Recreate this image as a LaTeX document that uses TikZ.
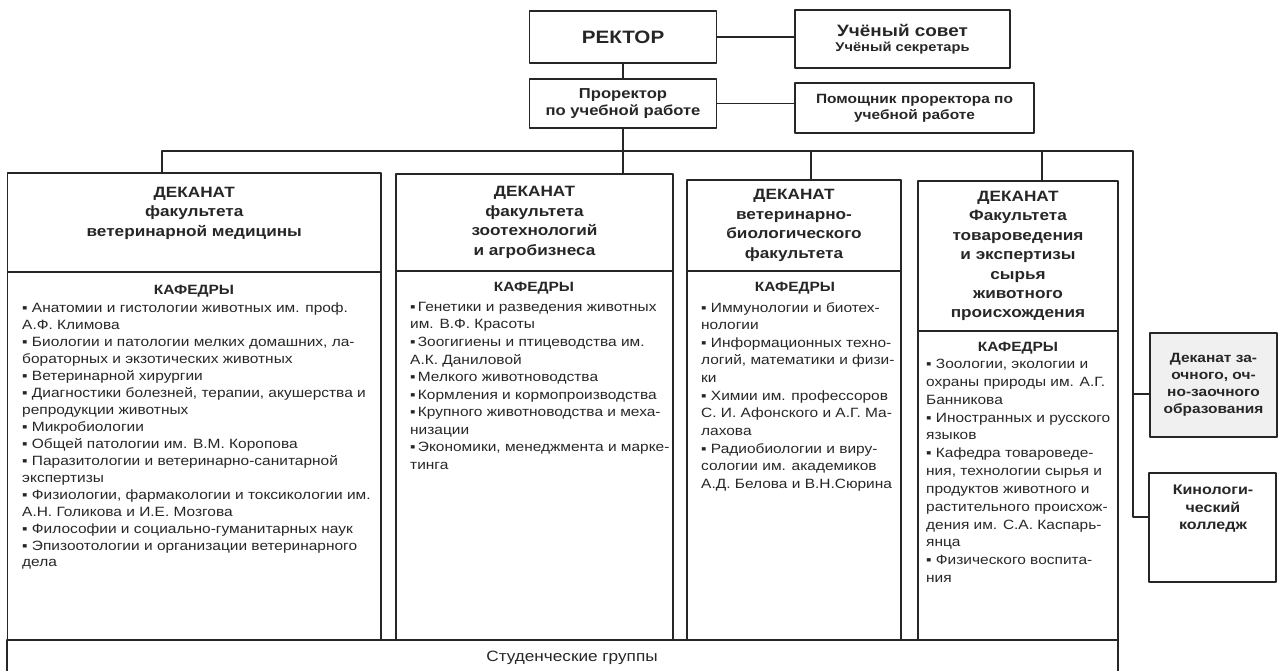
\documentclass[tikz,border=0pt]{standalone}
\usepackage{fontspec}
\setmainfont{Liberation Sans}[FakeStretch=1.15]
\usepackage{tikz}

\begin{document}
\begin{tikzpicture}[x=1bp,y=-1bp,line join=bevel,
  every node/.style={text=black!85},
  box/.style={draw=black!85,line width=1.3bp,inner sep=0pt},
  head/.style={align=center,font=\bfseries\fontsize{15}{19.5}\selectfont},
  kaf/.style={font=\bfseries\fontsize{13.5}{16}\selectfont},
  list/.style={anchor=north west,inner sep=0pt,align=left,font=\fontsize{13.5}{#1}\selectfont},
  wire/.style={draw=black!85,line width=1.3bp}]
\useasboundingbox (0,0) rectangle (1284,671);
\clip (0,0) rectangle (1284,671);
%%
\node (rek) at (623,37) [box,minimum width=187bp,minimum height=52bp,font=\bfseries\fontsize{18}{22}\selectfont] {РЕКТОР};
  \node (sovet) at (902.5,39) [box,minimum width=215bp,minimum height=58bp,align=center,font=\bfseries\fontsize{12.8}{15}\selectfont] {{\fontsize{16.5}{18}\selectfont Учёный совет}\\Учёный секретарь};
  \node (prorek) at (623,103.5) [box,minimum width=187bp,minimum height=49bp,align=center,font=\bfseries\fontsize{14.5}{17}\selectfont] {Проректор\\по учебной работе};
  \node (pom) at (914.5,108) [box,minimum width=239bp,minimum height=50bp,align=center,font=\bfseries\fontsize{13.5}{16}\selectfont] {Помощник проректора по\\учебной работе};
%
  \node (dek1) at (194.25,222.5) [box,minimum width=373.5bp,minimum height=99bp] {};
  \node (t1) at (194.25,213) [head] {ДЕКАНАТ\\факультета\\ветеринарной медицины};
  \node (dek2) at (534.5,222.5) [box,minimum width=277bp,minimum height=97bp,head] {ДЕКАНАТ\\факультета\\зоотехнологий\\и агробизнеса};
  \node (dek3) at (794,225.5) [box,minimum width=214bp,minimum height=91bp,head] {ДЕКАНАТ\\ветеринарно-\\биологического\\факультета};
  \node (dek4) at (1018,256) [box,minimum width=200bp,minimum height=150bp,head] {ДЕКАНАТ\\Факультета\\товароведения\\и экспертизы\\сырья\\животного\\происхождения};
%
  \node (kaf1) at (194.25,456) [box,minimum width=373.5bp,minimum height=368bp] {};
  \node (kaf2) at (534.5,455.5) [box,minimum width=277bp,minimum height=369bp] {};
  \node (kaf3) at (794,455.5) [box,minimum width=214bp,minimum height=369bp] {};
  \node (kaf4) at (1018,485.5) [box,minimum width=200bp,minimum height=309bp] {};
  \node (k1) at (194,291) [kaf] {КАФЕДРЫ};
  \node (k2) at (534,288) [kaf] {КАФЕДРЫ};
  \node (k3) at (795,288) [kaf] {КАФЕДРЫ};
  \node (k4) at (1018,348) [kaf] {КАФЕДРЫ};
  \node (l1) at (22,303) [list=17] {▪ Анатомии и гистологии животных им. проф.\\А.Ф. Климова\\▪ Биологии и патологии мелких домашних, ла-\\бораторных и экзотических животных\\▪ Ветеринарной хирургии\\▪ Диагностики болезней, терапии, акушерства и\\репродукции животных\\▪ Микробиологии\\▪ Общей патологии им. В.М. Коропова\\▪ Паразитологии и ветеринарно-санитарной\\экспертизы\\▪ Физиологии, фармакологии и токсикологии им.\\А.Н. Голикова и И.Е. Мозгова\\▪ Философии и социально-гуманитарных наук\\▪ Эпизоотологии и организации ветеринарного\\дела};
  \node (l2) at (410,302) [list=17.6] {▪\,Генетики и разведения животных\\им. В.Ф. Красоты\\▪\,Зоогигиены и птицеводства им.\\А.К. Даниловой\\▪\,Мелкого животноводства\\▪\,Кормления и кормопроизводства\\▪\,Крупного животноводства и меха-\\низации\\▪\,Экономики, менеджмента и марке-\\тинга};
  \node (l3) at (701,302) [list=17.7] {▪ Иммунологии и биотех-\\нологии\\▪ Информационных техно-\\логий, математики и физи-\\ки\\▪ Химии им. профессоров\\С. И. Афонского и А.Г. Ма-\\лахова\\▪ Радиобиологии и виру-\\сологии им. академиков\\А.Д. Белова и В.Н.Сюрина};
  \node (l4) at (926,359) [list=17.9] {▪ Зоологии, экологии и\\охраны природы им. А.Г.\\Банникова\\▪ Иностранных и русского\\языков\\▪ Кафедра товароведе-\\ния, технологии сырья и\\продуктов животного и\\растительного происхож-\\дения им. С.А. Каспарь-\\янца\\▪ Физического воспита-\\ния};
%
  \node (zaoch) at (1213.5,385) [box,minimum width=127bp,minimum height=104bp,fill=black!6,align=center,font=\bfseries\fontsize{13.5}{17}\selectfont] {Деканат за-\\очного, оч-\\но-заочного\\образования};
  \node (kino) at (1212.5,527.5) [box,minimum width=127bp,minimum height=109bp] {};
  \node (kinot) at (1213,509) [align=center,font=\bfseries\fontsize{14}{17.5}\selectfont] {Кинологи-\\ческий\\колледж};
  \node (stud) at (562.5,670) [box,minimum width=1111bp,minimum height=60bp] {};
  \node (studt) at (572,658) [font=\fontsize{15}{18}\selectfont] {Студенческие группы};
%
  \coordinate (b1) at (162,151);
  \coordinate (b3) at (811,151);
  \coordinate (b4) at (1042,151);
  \coordinate (b5) at (1133,151);
  \coordinate (z5) at (1133,394);
  \coordinate (k5) at (1133,517);
  \draw [wire] (rek.east) -- (rek.east -| sovet.west);
  \draw [wire] (rek) -- (prorek);
  \draw [wire] (prorek.east) -- (prorek.east -| pom.west);
  \draw [wire] (prorek.south) -- (prorek.south |- dek2.north);
  \draw [wire] (b1 |- dek1.north) -- (b1) -- (b5) -- (k5) -- (k5 -| kino.west);
  \draw [wire] (b3) -- (b3 |- dek3.north);
  \draw [wire] (b4) -- (b4 |- dek4.north);
  \draw [wire] (z5) -- (z5 -| zaoch.west);
%
\end{tikzpicture}
\end{document}
